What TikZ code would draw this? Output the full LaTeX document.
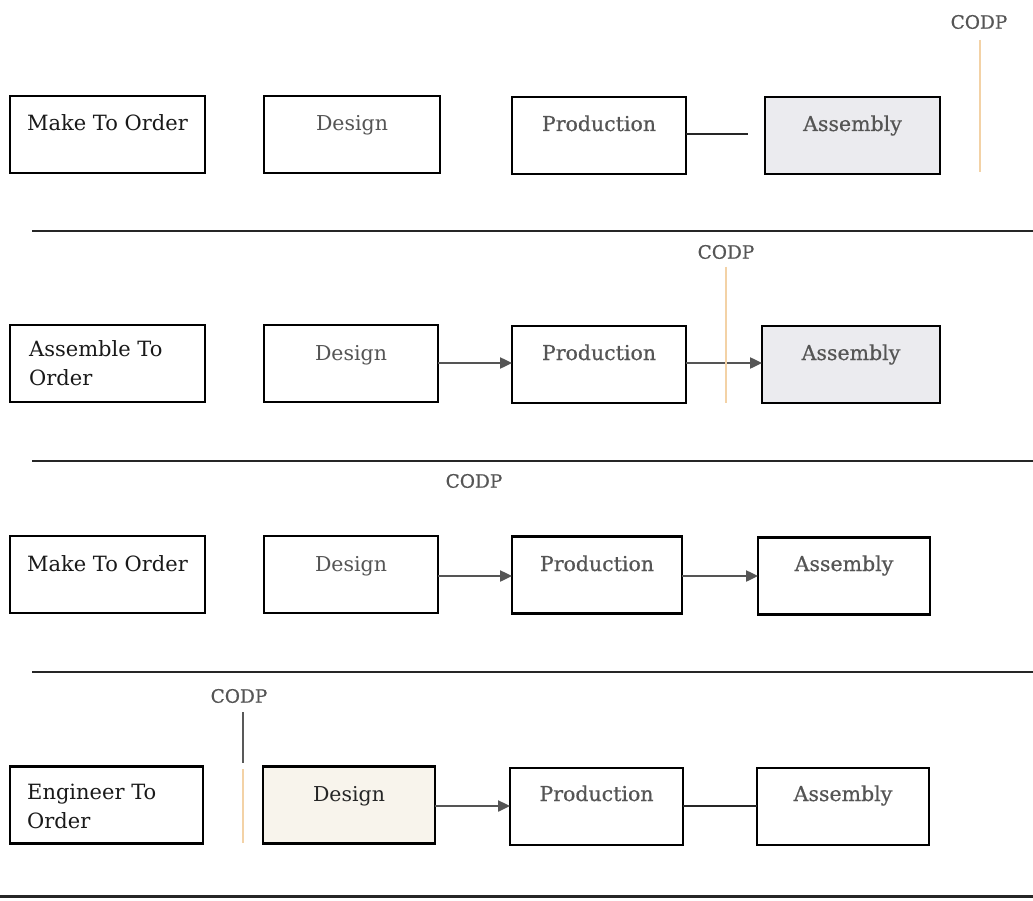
\documentclass[tikz,border=0pt]{standalone}
\usepackage{fontspec}
\setmainfont{DejaVu Serif}
\newfontfamily\slabfont[FakeBold=0.6]{DejaVu Serif}
\usetikzlibrary{arrows.meta}

\definecolor{inkgray}{HTML}{555555}
\definecolor{asmfill}{HTML}{EBEBEF}
\definecolor{desfill}{HTML}{F8F4EC}
\definecolor{codpline}{HTML}{F3D2A6}

\tikzset{
  box/.style={draw=black, line width=2.1pt, inner sep=0pt, outer sep=0pt, minimum height=77pt},
  stage/.style={inner sep=0pt, anchor=base, text=inkgray, font=\slabfont\fontsize{20.5}{24}\selectfont},
  plainstage/.style={inner sep=0pt, anchor=base, text=inkgray, font=\fontsize{20.5}{24}\selectfont},
  kind/.style={inner sep=0pt, text=black!90, font=\fontsize{21}{25}\selectfont},
  codp/.style={inner sep=0pt, text=inkgray, font=\slabfont\fontsize{18.5}{22}\selectfont},
  flow/.style={draw=inkgray, line width=2.4pt, -{Triangle[length=12pt,width=11pt]}},
  link/.style={draw=black!85, line width=2.2pt},
  codpmark/.style={draw=codpline, line width=2pt},
  sep/.style={draw=black!85, line width=2.4pt},
}

\begin{document}
\begin{tikzpicture}[x=1pt, y=-1pt]
  \useasboundingbox[fill=white] (0,0) rectangle (1033,901);

  % ---------- Row 1: Make To Order (CODP after assembly) ----------
  \node[box, minimum width=195pt] (L1) at (107.5,134.5) {};
  \node[box, minimum width=176pt] (D1) at (352,134.5) {};
  \node[box, minimum width=174pt] (P1) at (599,135.5) {};
  \node[box, minimum width=175pt, fill=asmfill] (A1) at (852.5,135.5) {};
  \node[kind, anchor=base] (L1t) at (107.5,131) {Make To Order};
  \node[plainstage] (D1t) at (352,131) {Design};
  \node[stage] (P1t) at (599,131) {Production};
  \node[stage] (A1t) at (852.5,131) {Assembly};
  \coordinate (A1in) at (748,134);
  \draw[link] (P1.east |- A1in) -- (A1in);
  \node[codp] (C1) at (979,22) {CODP};
  \coordinate (C1b) at (980,172);
  \draw[codpmark] (980,40) -- (C1b);
  \coordinate (S1a) at (32,231);
  \coordinate (S1b) at (1033,231);
  \draw[sep] (S1a) -- (S1b);

  % ---------- Row 2: Assemble To Order ----------
  \node[box, minimum width=195pt] (L2) at (107.5,363.5) {};
  \node[box, minimum width=174pt] (D2) at (351,363.5) {};
  \node[box, minimum width=174pt] (P2) at (599,364.5) {};
  \node[box, minimum width=178pt, fill=asmfill] (A2) at (851,364.5) {};
  \node[kind, anchor=base west] (L2t) at (29,356) {Assemble To};
  \node[kind, anchor=base west] (L2u) at (29,385) {Order};
  \node[plainstage] (D2t) at (351,360) {Design};
  \node[stage] (P2t) at (599,360) {Production};
  \node[stage] (A2t) at (851,360) {Assembly};
  \draw[flow] (D2.east |- 0,363) -- (P2.west |- 0,363);
  \draw[flow] (P2.east |- 0,363) -- (A2.west |- 0,363);
  \node[codp] (C2) at (726,252) {CODP};
  \coordinate (C2b) at (726,403);
  \draw[codpmark] (726,267) -- (C2b);
  \coordinate (S2a) at (32,461);
  \coordinate (S2b) at (1033,461);
  \draw[sep] (S2a) -- (S2b);

  % ---------- Row 3: Make To Order (CODP before production) ----------
  \node[box, minimum width=195pt] (L3) at (107.5,574.5) {};
  \node[box, minimum width=174pt] (D3) at (351,574.5) {};
  \node[box, minimum width=170pt] (P3) at (597,575) {};
  \node[box, minimum width=172pt] (A3) at (844,576) {};
  \node[kind, anchor=base] (L3t) at (107.5,571) {Make To Order};
  \node[plainstage] (D3t) at (351,571) {Design};
  \node[stage] (P3t) at (597,571) {Production};
  \node[stage] (A3t) at (844,571) {Assembly};
  \draw[flow] (D3.east |- 0,576) -- (P3.west |- 0,576);
  \draw[flow] (P3.east |- 0,576) -- (A3.west |- 0,576);
  \node[codp] (C3) at (474,481) {CODP};
  \coordinate (S3a) at (32,672);
  \coordinate (S3b) at (1033,672);
  \draw[sep] (S3a) -- (S3b);

  % ---------- Row 4: Engineer To Order ----------
  \node[box, minimum width=193pt] (L4) at (106.5,805) {};
  \node[box, minimum width=172pt, fill=desfill] (D4) at (349,805) {};
  \node[box, minimum width=173pt] (P4) at (596.5,806.5) {};
  \node[box, minimum width=172pt] (A4) at (843,806.5) {};
  \node[kind, anchor=base west] (L4t) at (27,799) {Engineer To};
  \node[kind, anchor=base west] (L4u) at (27,828) {Order};
  \node[plainstage, text=black!85] (D4t) at (349,801) {Design};
  \node[stage] (P4t) at (596.5,801) {Production};
  \node[stage] (A4t) at (843,801) {Assembly};
  \draw[flow] (D4.east |- 0,806) -- (P4.west |- 0,806);
  \draw[link] (P4.east |- 0,806) -- (A4.west |- 0,806);
  \node[codp] (C4) at (239,696) {CODP};
  \coordinate (C4a) at (243,712);
  \coordinate (C4b) at (243,763);
  \draw[draw=black!65, line width=2.6pt] (C4a) -- (C4b);
  \coordinate (C4c) at (243,769);
  \coordinate (C4d) at (243,843);
  \draw[codpmark] (C4c) -- (C4d);
  \coordinate (S4a) at (0,896);
  \coordinate (S4b) at (1033,896);
  \draw[sep, line width=3pt] (S4a) -- (S4b);
\end{tikzpicture}
\end{document}
